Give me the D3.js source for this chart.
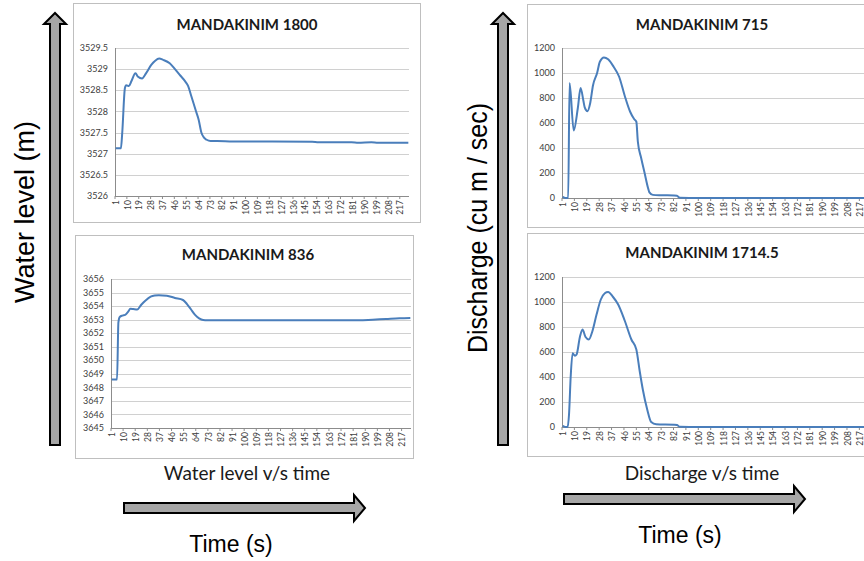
<!DOCTYPE html>
<html>
<head>
<meta charset="utf-8">
<script src="https://cdn.jsdelivr.net/npm/d3@7"></script>
<style>
  body { margin: 0; background: #fff; }
  svg { display: block; }
</style>
</head>
<body>
<script>
// x categories run 1..223 (time steps), labels every 9th step
const timeCount = 223;
const timeLabels = [1, 10, 19, 28, 37, 46, 55, 64, 73, 82, 91, 100, 109, 118, 127, 136, 145, 154, 163, 172, 181, 190, 199, 208, 217];

// y tick labels
const level1800Ticks = [3526, 3526.5, 3527, 3527.5, 3528, 3528.5, 3529, 3529.5];
const level836Ticks = [3645, 3646, 3647, 3648, 3649, 3650, 3651, 3652, 3653, 3654, 3655, 3656];
const dischargeTicks = [0, 200, 400, 600, 800, 1000, 1200];

// MANDAKINIM 1800 - water level (m), read at these time steps
const level1800Time = [1, 5, 6, 8, 9, 11, 13, 16, 18, 21, 24, 28, 31, 34, 37, 42, 46, 50, 54, 56, 58, 60, 62, 64, 66, 68, 70, 73, 78, 90, 120, 150, 155, 180, 185, 195, 200, 223];
const level1800 = [3527.13, 3527.13, 3527.5, 3528.55, 3528.62, 3528.6, 3528.72, 3528.9, 3528.82, 3528.78, 3528.9, 3529.1, 3529.2, 3529.25, 3529.22, 3529.14, 3529.0, 3528.85, 3528.7, 3528.6, 3528.4, 3528.2, 3528.0, 3527.8, 3527.5, 3527.38, 3527.33, 3527.3, 3527.3, 3527.29, 3527.29, 3527.28, 3527.27, 3527.27, 3527.26, 3527.27, 3527.26, 3527.26];

// MANDAKINIM 836 - water level (m)
const level836Time = [1, 5, 6, 7, 9, 11, 13, 15, 17, 20, 23, 26, 30, 33, 36, 42, 48, 54, 57, 60, 63, 66, 69, 72, 80, 120, 160, 185, 195, 205, 215, 223];
const level836 = [3648.58, 3648.58, 3652.8, 3653.2, 3653.3, 3653.35, 3653.55, 3653.8, 3653.78, 3653.75, 3654.1, 3654.4, 3654.7, 3654.78, 3654.8, 3654.77, 3654.6, 3654.45, 3654.15, 3653.75, 3653.35, 3653.1, 3652.97, 3652.95, 3652.95, 3652.95, 3652.95, 3652.95, 3653.0, 3653.05, 3653.1, 3653.12];

// MANDAKINIM 715 - discharge (cu m / sec)
const discharge715Time = [1, 3, 5, 6, 9, 12, 14, 16, 17, 19, 21, 23, 26, 28, 31, 34, 38, 42, 46, 50, 53, 54.5, 55.6, 58, 60.5, 63, 64, 66.5, 72.5, 82, 84, 86, 100, 150, 223];
const discharge715 = [10, 0, 0, 920, 540, 720, 880, 780, 725, 695, 760, 900, 1000, 1090, 1125, 1110, 1050, 970, 820, 690, 630, 610, 450, 320, 200, 80, 45, 25, 22, 20, 18, 2, 0, 0, 0];

// MANDAKINIM 1714.5 - discharge (cu m / sec)
const discharge1714Time = [1, 3, 4.6, 5.6, 6.8, 8.2, 9.9, 11.1, 13.5, 15.4, 17.6, 20, 22.4, 25.6, 28.7, 31.6, 34, 37.6, 41.3, 46.1, 50.9, 54.5, 56.9, 59.2, 62.4, 65.3, 68.9, 82, 84, 86, 100, 150, 223];
const discharge1714 = [10, 0, 0, 100, 400, 590, 570, 580, 720, 780, 720, 700, 760, 900, 1020, 1070, 1080, 1040, 980, 850, 700, 620, 450, 300, 140, 40, 22, 18, 16, 2, 0, 0, 0];

const width = 864;
const height = 561;
const lineColor = "#4a7ebb";
const smallFont = "Lato, 'Open Sans', sans-serif";
const bigFont = "'Liberation Sans', Arial, sans-serif";

const svg = d3.select("body").append("svg")
  .attr("width", width)
  .attr("height", height);

// one Excel style chart panel
function drawPanel(p) {
  const g = svg.append("g");

  g.append("rect")
    .attr("x", p.box[0] + 0.5)
    .attr("y", p.box[1] + 0.5)
    .attr("width", p.box[2])
    .attr("height", p.box[3])
    .attr("fill", "#fff")
    .attr("stroke", "#bfbfbf");

  const x = d3.scaleLinear().domain([0.5, timeCount + 0.5]).range([p.left, p.right]);
  const y = d3.scaleLinear().domain(d3.extent(p.yTicks)).range([p.bottom, p.top]);

  // horizontal gridlines
  g.append("g").selectAll("line")
    .data(p.yTicks.slice(1))
    .join("line")
    .attr("x1", p.left)
    .attr("x2", p.right)
    .attr("y1", d => Math.round(y(d)) + 0.5)
    .attr("y2", d => Math.round(y(d)) + 0.5)
    .attr("stroke", "#d0d0d0");

  // y labels
  g.append("g").selectAll("text")
    .data(p.yTicks)
    .join("text")
    .attr("x", p.left - 7)
    .attr("y", d => y(d))
    .attr("dy", "0.35em")
    .attr("text-anchor", "end")
    .style("font-family", smallFont)
    .style("font-size", "9px")
    .style("fill", "#404040")
    .text(d => d);

  // axis lines
  g.append("line")
    .attr("x1", p.left + 0.5).attr("x2", p.left + 0.5)
    .attr("y1", p.top).attr("y2", p.bottom)
    .attr("stroke", "#8c8c8c");
  g.append("line")
    .attr("x1", p.left).attr("x2", p.right)
    .attr("y1", Math.round(p.bottom) + 0.5).attr("y2", Math.round(p.bottom) + 0.5)
    .attr("stroke", "#8c8c8c");

  // x ticks and rotated labels
  g.append("g").selectAll("line")
    .data(timeLabels)
    .join("line")
    .attr("x1", d => x(d - 0.5))
    .attr("x2", d => x(d - 0.5))
    .attr("y1", p.bottom)
    .attr("y2", p.bottom + 3)
    .attr("stroke", "#8c8c8c");

  g.append("g").selectAll("text")
    .data(timeLabels)
    .join("text")
    .attr("transform", d => `translate(${x(d)},${p.bottom + 4}) rotate(-90)`)
    .attr("dy", "0.35em")
    .attr("text-anchor", "end")
    .style("font-family", smallFont)
    .style("font-size", "8.5px")
    .style("fill", "#404040")
    .text(d => d);

  // the series line
  const line = d3.line()
    .x(d => x(d[0]))
    .y(d => y(d[1]))
    .curve(d3.curveMonotoneX);

  g.append("path")
    .datum(d3.zip(p.times, p.values))
    .attr("d", line)
    .attr("fill", "none")
    .attr("stroke", lineColor)
    .attr("stroke-width", 2)
    .attr("stroke-linejoin", "round");

  // title
  g.append("text")
    .attr("x", p.titleX)
    .attr("y", p.titleY)
    .attr("text-anchor", "middle")
    .style("font-family", smallFont)
    .style("font-weight", "bold")
    .style("font-size", "15px")
    .style("fill", "#1a1a1a")
    .text(p.title);
}

drawPanel({
  title: "MANDAKINIM 1800", titleX: 247, titleY: 30,
  box: [73, 3, 347, 219],
  left: 115, right: 409, top: 48, bottom: 196,
  yTicks: level1800Ticks, times: level1800Time, values: level1800
});

drawPanel({
  title: "MANDAKINIM 836", titleX: 248, titleY: 260,
  box: [75, 235, 338, 223],
  left: 111, right: 411, top: 279, bottom: 428,
  yTicks: level836Ticks, times: level836Time, values: level836
});

drawPanel({
  title: "MANDAKINIM 715", titleX: 702, titleY: 30,
  box: [527, 4, 360, 223],
  left: 562, right: 869, top: 48, bottom: 198,
  yTicks: dischargeTicks, times: discharge715Time, values: discharge715
});

drawPanel({
  title: "MANDAKINIM 1714.5", titleX: 702, titleY: 258,
  box: [527, 233, 360, 223],
  left: 562, right: 869, top: 277, bottom: 427,
  yTicks: dischargeTicks, times: discharge1714Time, values: discharge1714
});

// block arrows
const arrows = [
  "M50,445 L50,24 L44,24 L55,13 L66,24 L60,24 L60,445 Z",
  "M498,445 L498,24 L492,24 L503,13 L514,24 L508,24 L508,445 Z",
  "M124,503 L354,503 L354,495 L365,508 L354,521 L354,513 L124,513 Z",
  "M564,494 L794,494 L794,486 L805,499 L794,512 L794,504 L564,504 Z"
];
svg.append("g").selectAll("path")
  .data(arrows)
  .join("path")
  .attr("d", d => d)
  .attr("fill", "#a6a6a6")
  .attr("stroke", "#000")
  .attr("stroke-width", 2);

// axis captions (narrow, tall lettering as in the original slide)
svg.append("text")
  .attr("transform", "translate(34,212) rotate(-90)")
  .attr("text-anchor", "middle")
  .attr("textLength", 182)
  .attr("lengthAdjust", "spacingAndGlyphs")
  .style("font-family", bigFont)
  .style("font-size", "27px")
  .text("Water level (m)");

svg.append("text")
  .attr("transform", "translate(487,228) rotate(-90)")
  .attr("text-anchor", "middle")
  .attr("textLength", 250)
  .attr("lengthAdjust", "spacingAndGlyphs")
  .style("font-family", bigFont)
  .style("font-size", "27px")
  .text("Discharge (cu m / sec)");

svg.append("text")
  .attr("x", 247).attr("y", 480)
  .attr("text-anchor", "middle")
  .style("font-family", smallFont)
  .style("font-size", "19px")
  .style("fill", "#1a1a1a")
  .text("Water level v/s time");

svg.append("text")
  .attr("x", 702).attr("y", 480)
  .attr("text-anchor", "middle")
  .style("font-family", smallFont)
  .style("font-size", "19px")
  .style("fill", "#1a1a1a")
  .text("Discharge v/s time");

svg.append("text")
  .attr("x", 231).attr("y", 552)
  .attr("text-anchor", "middle")
  .style("font-family", bigFont)
  .style("font-size", "23px")
  .text("Time (s)");

svg.append("text")
  .attr("x", 680).attr("y", 543)
  .attr("text-anchor", "middle")
  .style("font-family", bigFont)
  .style("font-size", "23px")
  .text("Time (s)");
</script>
</body>
</html>
